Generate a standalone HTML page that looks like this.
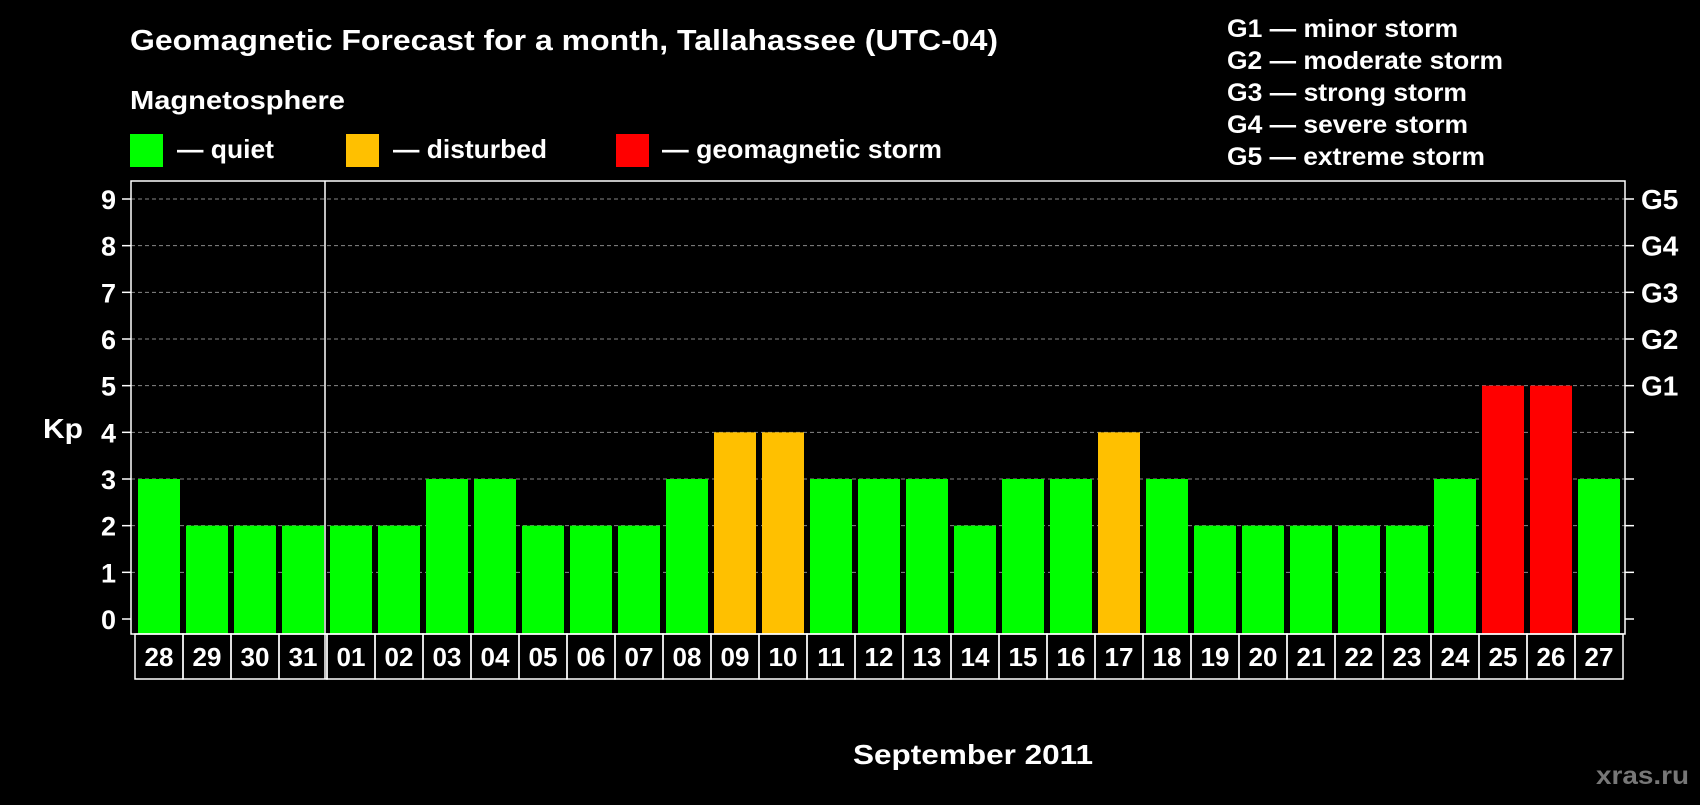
<!DOCTYPE html>
<html><head><meta charset="utf-8"><style>
body{margin:0;background:#000;width:1700px;height:800px;overflow:hidden}
svg text{font-family:"Liberation Sans",Arial,sans-serif;font-weight:bold;fill:#fff}
</style></head><body>
<svg id="c" width="1700" height="800" xmlns="http://www.w3.org/2000/svg">
<text x="130" y="50" font-size="29" textLength="868" lengthAdjust="spacingAndGlyphs">Geomagnetic Forecast for a month, Tallahassee (UTC-04)</text>
<text x="130" y="109" font-size="26" textLength="215" lengthAdjust="spacingAndGlyphs">Magnetosphere</text>
<rect x="130" y="134" width="33" height="33" fill="#00ff00"/>
<text x="177" y="158" font-size="26" textLength="97" lengthAdjust="spacingAndGlyphs">— quiet</text>
<rect x="346" y="134" width="33" height="33" fill="#ffc000"/>
<text x="393" y="158" font-size="26" textLength="154" lengthAdjust="spacingAndGlyphs">— disturbed</text>
<rect x="616" y="134" width="33" height="33" fill="#ff0000"/>
<text x="662" y="158" font-size="26" textLength="280" lengthAdjust="spacingAndGlyphs">— geomagnetic storm</text>
<g font-size="25">
<text x="1227" y="37" textLength="231" lengthAdjust="spacingAndGlyphs">G1 — minor storm</text>
<text x="1227" y="69" textLength="276" lengthAdjust="spacingAndGlyphs">G2 — moderate storm</text>
<text x="1227" y="101" textLength="240" lengthAdjust="spacingAndGlyphs">G3 — strong storm</text>
<text x="1227" y="133" textLength="241" lengthAdjust="spacingAndGlyphs">G4 — severe storm</text>
<text x="1227" y="165" textLength="258" lengthAdjust="spacingAndGlyphs">G5 — extreme storm</text>
</g>
<text x="43" y="438" font-size="28" textLength="40" lengthAdjust="spacingAndGlyphs">Kp</text>
<text x="853" y="764" font-size="28" textLength="240" lengthAdjust="spacingAndGlyphs">September 2011</text>
<text x="1596" y="784" font-size="25" textLength="93" lengthAdjust="spacingAndGlyphs" style="fill:#777">xras.ru</text>
<g id="plot"></g>
</svg>
<script>
const days=["28","29","30","31","01","02","03","04","05","06","07","08","09","10","11","12","13","14","15","16","17","18","19","20","21","22","23","24","25","26","27"];
const kp=[3,2,2,2,2,2,3,3,2,2,2,3,4,4,3,3,3,2,3,3,4,3,2,2,2,2,2,3,5,5,3];
const yTicks=[0,1,2,3,4,5,6,7,8,9];
const gLabels={5:"G1",6:"G2",7:"G3",8:"G4",9:"G5"};
const NS="http://www.w3.org/2000/svg";
const g=document.getElementById('plot');
const L=131,R=1625,T=181,B=634,X0=135,slot=48,bw=42;
const y=v=>619-v*(420/9);
const x=i=>X0+i*slot;
function mk(t,a){const e=document.createElementNS(NS,t);for(const k in a)e.setAttribute(k,a[k]);g.appendChild(e);return e;}
yTicks.forEach(v=>{
  if(v>0){const l=mk('line',{x1:L,x2:R,y1:y(v),y2:y(v),stroke:'#888','stroke-dasharray':'4,3','stroke-width':1});
  
  }
  const t1=mk('line',{x1:122,x2:L,y1:y(v),y2:y(v),stroke:'#fff','stroke-width':1.5});
  
  
  const t2=mk('line',{x1:R,x2:1634,y1:y(v),y2:y(v),stroke:'#fff','stroke-width':1.5});
  
  
  const lb=mk('text',{x:116,y:y(v)+10,'font-size':27,'text-anchor':'end'});lb.textContent=v;
  
  
  if(gLabels[v]){const gl=mk('text',{x:1641,y:y(v)+10,'font-size':28});gl.textContent=gLabels[v];
  
  }
});
kp.forEach((v,i)=>{
  const col=v>=5?'#ff0000':(v>=4?'#ffc000':'#00ff00');
  const r=mk('rect',{x:x(i)+3,y:y(v),width:bw,height:B-y(v),fill:col});
  
  
  const c=mk('rect',{x:x(i),y:B,width:slot,height:45,fill:'none',stroke:'#fff','stroke-width':1.5});
  
  
  const t=mk('text',{x:x(i)+slot/2,y:B+32,'font-size':26,'text-anchor':'middle'});t.textContent=days[i];
  
  
});
const f=mk('rect',{x:L,y:T,width:R-L,height:B-T,fill:'none',stroke:'#fff','stroke-width':1.5});


const ml=mk('line',{x1:x(4)-2,x2:x(4)-2,y1:T,y2:B+45,stroke:'#fff','stroke-width':1.5});


</script>
</body></html>
